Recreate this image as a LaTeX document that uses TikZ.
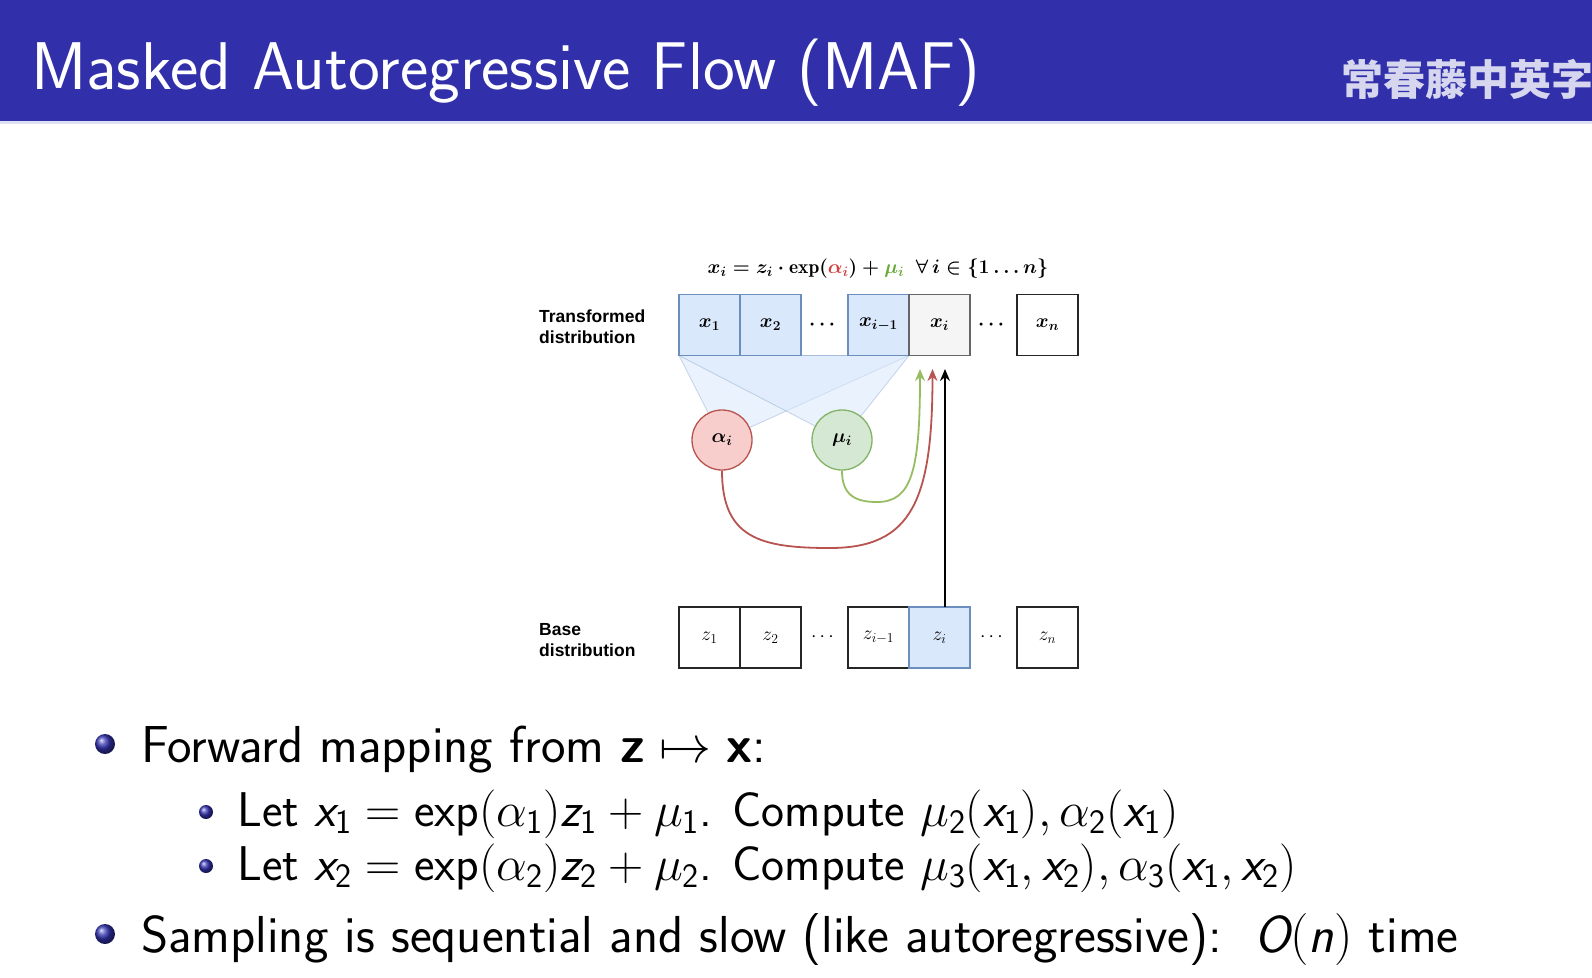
\RequirePackage{fix-cm}
\documentclass[tikz,border=0pt]{standalone}
\usepackage{fontspec}
\usepackage{amsmath,amssymb}
\usetikzlibrary{arrows.meta}
\newfontfamily\cjkfont{Noto Sans CJK SC}
\newfontfamily\arialfont{Liberation Sans}
\definecolor{barblue}{RGB}{49,48,170}
\definecolor{barline}{RGB}{222,224,244}
\definecolor{cjkcol}{RGB}{214,214,238}
\definecolor{structure}{RGB}{51,51,178}
\definecolor{bfill}{HTML}{DAE8FC}
\definecolor{bbord}{HTML}{6C8EBF}
\definecolor{gyfill}{HTML}{F5F5F5}
\definecolor{gybord}{HTML}{666666}
\definecolor{rfill}{HTML}{F8CECC}
\definecolor{rbord}{HTML}{B85450}
\definecolor{gnfill}{HTML}{D5E8D4}
\definecolor{gnbord}{HTML}{82B366}
\definecolor{gncurve}{HTML}{98BC62}
\definecolor{eqred}{RGB}{214,64,64}
\definecolor{eqgreen}{RGB}{104,168,56}
\newcommand{\mv}[1]{\text{\normalfont\sffamily\itshape #1}}
\newcommand{\mn}[1]{\text{\normalfont\sffamily #1}}
\newcommand{\mb}[1]{\text{\normalfont\sffamily\bfseries #1}}
\newcommand{\threedots}{\mathinner{\ldotp\ldotp\ldotp}}
\tikzset{
  cellbox/.style={minimum width=61pt, minimum height=61pt, inner sep=0pt, line width=1.3pt},
  cellblue/.style={cellbox, draw=bbord, fill=bfill},
  cellgray/.style={cellbox, draw=gybord, fill=gyfill},
  cellwhite/.style={cellbox, draw=black!85, fill=white, line width=1.8pt},
  dmath/.style={font=\fontsize{19.5}{23}\selectfont},
  lbl/.style={anchor=base west, inner sep=0pt, font=\arialfont\bfseries\fontsize{17.5}{21}\selectfont},
  circ/.style={circle, minimum size=60pt, inner sep=0pt, line width=1.3pt, font=\fontsize{19.5}{23}\selectfont\boldmath},
  fan/.style={fill=bfill, fill opacity=0.55, draw=bbord, draw opacity=0.35, line width=0.8pt},
  arr/.style={line width=1.8pt, -{Stealth[length=12pt,width=10pt]}},
  body/.style={anchor=base west, inner sep=0pt, font=\sffamily\fontsize{52}{62}\selectfont},
  subbody/.style={anchor=base west, inner sep=0pt, font=\sffamily\fontsize{48.8}{58}\selectfont},
}
\begin{document}
\begin{tikzpicture}[x=1pt, y=-1pt]
\useasboundingbox (0,0) rectangle (1592,977);
\fill[white] (0,0) rectangle (1592,977);
% title bar
\fill[barblue] (0,0) rectangle (1592,121);
\fill[barline] (0,121) rectangle (1592,124);
\node[anchor=base west, inner sep=0pt, text=white, font=\sffamily\fontsize{67.5}{75}\selectfont] (title) at (31,89) {Masked Autoregressive Flow (MAF)};
\node[anchor=base west, inner sep=0pt, text=cjkcol, font=\cjkfont\bfseries\fontsize{42}{46}\selectfont] (logo) at (1341,95) {常春藤中英字};

% fans (behind boxes and circles)
\coordinate (fanl) at (679,355.5);
\coordinate (fanr) at (909,355.5);
\coordinate (alc) at (722,440);
\coordinate (muc) at (842,440);
\draw[fan] (fanl) -- (fanr) -- (alc) -- cycle;
\draw[fan] (fanl) -- (fanr) -- (muc) -- cycle;

% top row
\begin{scope}[every node/.append style={font=\fontsize{19.5}{23}\selectfont\boldmath}]
\node[cellblue] (x1) at (709.5,325) {$x_1$};
\node[cellblue] (x2) at (770.5,325) {$x_2$};
\node (xd1) at (824,325) {$\cdots$};
\node[cellblue] (xim) at (878.5,325) {$x_{i-1}$};
\node[cellgray] (xi) at (939.5,325) {$x_i$};
\node (xd2) at (993,325) {$\cdots$};
\node[cellwhite] (xn) at (1047.5,325) {$x_n$};
\node (eq) at (878,269) {$x_i = z_i \cdot \exp(\textcolor{eqred}{\alpha_i}) + \textcolor{eqgreen}{\mu_i}\ \ \forall\, i \in \{1 \threedots n\}$};
\end{scope}

% bottom row
\node[cellwhite, dmath] (z1) at (709.5,637.5) {$z_1$};
\node[cellwhite, dmath] (z2) at (770.5,637.5) {$z_2$};
\node[dmath] (zd1) at (824,637.5) {$\cdots$};
\node[cellwhite, dmath] (zim) at (878.5,637.5) {$z_{i-1}$};
\node[cellblue, dmath] (zi) at (939.5,637.5) {$z_i$};
\node[dmath] (zd2) at (993,637.5) {$\cdots$};
\node[cellwhite, dmath] (zn) at (1047.5,637.5) {$z_n$};

% labels
\node[lbl] (tl1) at (539,322) {Transformed};
\node[lbl] (tl2) at (539,343) {distribution};
\node[lbl] (bl1) at (539,635) {Base};
\node[lbl] (bl2) at (539,656) {distribution};

% circles
\node[circ, draw=rbord, fill=rfill] (al) at (alc) {$\alpha_i$};
\node[circ, draw=gnbord, fill=gnfill] (mu) at (muc) {$\mu_i$};

% arrows
\coordinate (tipg) at (920,369);
\coordinate (tipr) at (932.5,369);
\coordinate (tipk) at (945,369);
\coordinate (kst) at (945,607);
\draw[arr, gncurve] (mu.south) .. controls (842,495) and (855,502) .. (877,502) .. controls (912,502) and (920,470) .. (tipg);
\draw[arr, rbord] (al.south) .. controls (722,538) and (760,548) .. (830,548) .. controls (912,548) and (932.5,500) .. (tipr);
\draw[arr, black] (kst) -- (tipk);

% bullets
\shade[ball color=structure] (105,744) circle (10);
\shade[ball color=structure] (206,812) circle (7);
\shade[ball color=structure] (206,866) circle (7);
\shade[ball color=structure] (105,934) circle (10);

\node[body] (b1) at (141,762) {Forward mapping from $\mb{z} \mapsto \mb{x}$:};
\node[subbody] (s1) at (237,826) {Let $\mv{x}_{\mn{1}} = \mn{exp}(\alpha_{\mn{1}})\mv{z}_{\mn{1}} + \mu_{\mn{1}}$. Compute $\mu_{\mn{2}}(\mv{x}_{\mn{1}}), \alpha_{\mn{2}}(\mv{x}_{\mn{1}})$};
\node[subbody] (s2) at (237,880) {Let $\mv{x}_{\mn{2}} = \mn{exp}(\alpha_{\mn{2}})\mv{z}_{\mn{2}} + \mu_{\mn{2}}$. Compute $\mu_{\mn{3}}(\mv{x}_{\mn{1}}, \mv{x}_{\mn{2}}), \alpha_{\mn{3}}(\mv{x}_{\mn{1}}, \mv{x}_{\mn{2}})$};
\node[body] (b2) at (141,952) {Sampling is sequential and slow (like autoregressive):\ \ $\mv{O}(\mv{n})$ time};
\end{tikzpicture}
\end{document}
